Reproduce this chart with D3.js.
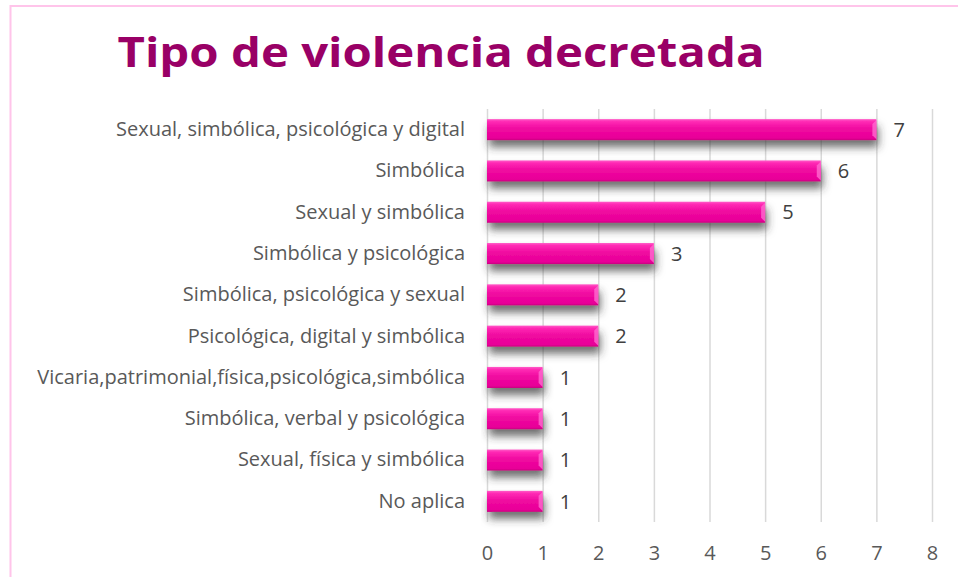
<!DOCTYPE html>
<html><head><meta charset="utf-8">
<script src="https://cdn.jsdelivr.net/npm/d3@7"></script>
<style>body{margin:0;background:#fff}svg{display:block}</style>
</head><body>
<script>
const categories = [
  "Sexual, simbólica, psicológica y digital",
  "Simbólica",
  "Sexual y simbólica",
  "Simbólica y psicológica",
  "Simbólica, psicológica y sexual",
  "Psicológica, digital y simbólica",
  "Vicaria,patrimonial,física,psicológica,simbólica",
  "Simbólica, verbal y psicológica",
  "Sexual, física y simbólica",
  "No aplica"
];
const values = [7, 6, 5, 3, 2, 2, 1, 1, 1, 1];
const tickValues = [0, 1, 2, 3, 4, 5, 6, 7, 8];
const title = "Tipo de violencia decretada";

const W = 958, H = 577;
const FONT = "'Open Sans', Lato, sans-serif";
const svg = d3.select("body").append("svg").attr("width", W).attr("height", H);

const defs = svg.append("defs");
const g1 = defs.append("linearGradient").attr("id","barGrad").attr("x1",0).attr("y1",0).attr("x2",0).attr("y2",1);
g1.append("stop").attr("offset","0%").attr("stop-color","#ff5cc8");
g1.append("stop").attr("offset","12%").attr("stop-color","#ff2ab4");
g1.append("stop").attr("offset","45%").attr("stop-color","#f00aa0");
g1.append("stop").attr("offset","90%").attr("stop-color","#e80098");
g1.append("stop").attr("offset","100%").attr("stop-color","#c8007f");
const f = defs.append("filter").attr("id","shadow").attr("x","-10%").attr("y","-50%").attr("width","130%").attr("height","250%");
f.append("feDropShadow").attr("dx",2).attr("dy",7).attr("stdDeviation",4).attr("flood-color","#333").attr("flood-opacity",0.7);

// border
svg.append("rect").attr("x",10.5).attr("y",6).attr("width",W+20).attr("height",H+20)
  .attr("fill","none").attr("stroke","#ffc4ea").attr("stroke-width",2);

const t = svg.append("text").attr("x",441).attr("y",67).attr("text-anchor","middle")
  .attr("font-family",FONT).attr("font-weight","bold")
  .attr("font-size",42).attr("fill","#990066").text(title);
const tw = t.node().getComputedTextLength();
if (tw > 0) t.attr("textLength", 647).attr("lengthAdjust", "spacingAndGlyphs");

const x = d3.scaleLinear().domain([0, 8]).range([487, 932]);
const y = d3.scaleBand().domain(categories).range([109, 522]).paddingInner(0.49).paddingOuter(0.245);

// gridlines
svg.append("g").selectAll("line").data(tickValues).join("line")
  .attr("x1", d => x(d) + 0.5).attr("x2", d => x(d) + 0.5)
  .attr("y1", 109).attr("y2", 522)
  .attr("stroke", "#d9d9d9").attr("stroke-width", 1.5);

// x axis labels
const xAxis = d3.axisBottom(x).tickValues(tickValues).tickSize(0).tickPadding(0).tickFormat(d3.format("d"));
const ax = svg.append("g").attr("transform", "translate(0,560)").call(xAxis);
ax.select(".domain").remove();
ax.selectAll("text").attr("dy", 0).attr("font-family",FONT).attr("font-size",20).attr("fill","#595959");

// y axis labels
const yAxis = d3.axisLeft(y).tickSize(0).tickPadding(0);
const ay = svg.append("g").attr("transform", "translate(465,0)").call(yAxis);
ay.select(".domain").remove();
ay.selectAll("text").attr("font-family",FONT).attr("font-size",20).attr("fill","#595959");

// bars
const bars = svg.append("g");
bars.selectAll("rect").data(values).join("rect")
  .attr("x", x(0)).attr("y", (d, i) => y(categories[i]))
  .attr("width", d => x(d) - x(0)).attr("height", y.bandwidth())
  .attr("fill", "url(#barGrad)").attr("filter", "url(#shadow)");
// bevel at right end
bars.selectAll("path").data(values).join("path")
  .attr("d", (d, i) => {
    const x1 = x(d), y0 = y(categories[i]), h = y.bandwidth();
    return `M${x1},${y0+1} L${x1-4},${y0+5} L${x1-4},${y0+h-5} L${x1},${y0+h-1} Z`;
  })
  .attr("fill", "#ff6ad0").attr("opacity", 0.8);

// value labels
svg.append("g").selectAll("text").data(values).join("text")
  .attr("x", d => x(d) + 17).attr("y", (d, i) => y(categories[i]) + y.bandwidth() / 2)
  .attr("dy", "0.36em")
  .attr("font-family",FONT).attr("font-size",20).attr("fill","#404040")
  .text(d => d);
</script>
</body></html>
